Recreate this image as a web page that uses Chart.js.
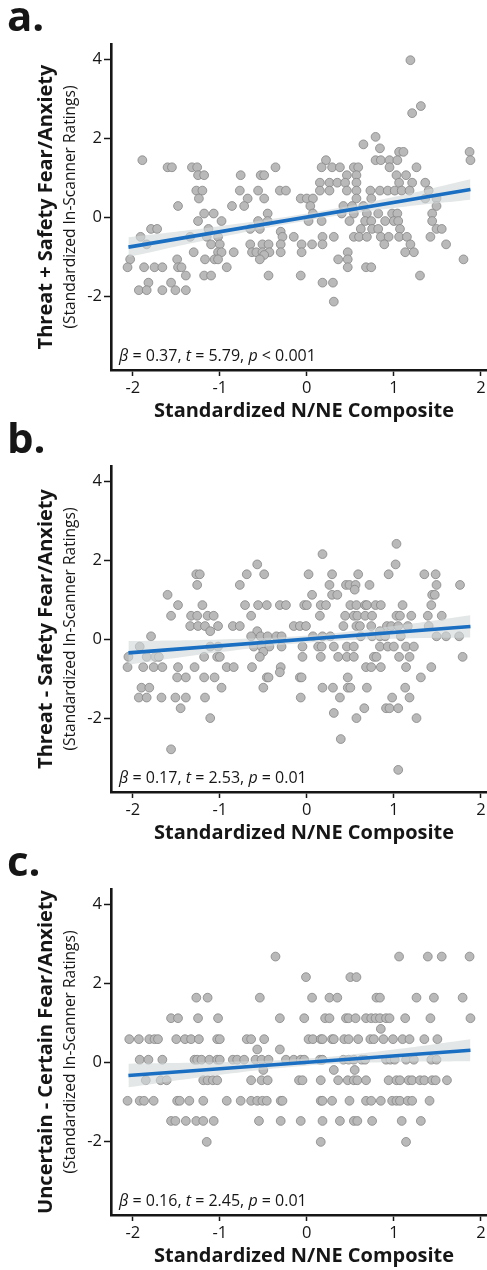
<!DOCTYPE html>
<html lang="en">
<head>
  <meta charset="UTF-8">
  <title>N/NE Composite and In-Scanner Fear/Anxiety</title>
  <script src="https://cdn.jsdelivr.net/npm/chart.js"></script>
  <style>
    body { margin: 0; background: #fff; }
    .panel { position: absolute; left: 0; width: 487px; height: 422px; }
  </style>
</head>
<body>
  <div class="panel" style="top:0px"><canvas id="chartA" width="487" height="422"></canvas></div>
  <div class="panel" style="top:422px"><canvas id="chartB" width="487" height="422"></canvas></div>
  <div class="panel" style="top:845px"><canvas id="chartC" width="487" height="422"></canvas></div>

  <script>
    // axis ticks and labels
    const xTicks = [-2, -1, 0, 1, 2];
    const yTicks = [-2, 0, 2, 4];
    const xTitle = 'Standardized N/NE Composite';
    const ySub = '(Standardized In-Scanner Ratings)';

    // panel a: Threat + Safety (rows of equal rating, x values per row)
    const aLevels = [3.97, 2.81, 2.63, 2.03, 1.84, 1.74, 1.65, 1.44, 1.26, 1.06, 0.87, 0.67, 0.47, 0.28, 0.09,
      -0.10, -0.30, -0.37, -0.50, -0.69, -0.89, -0.96, -1.07, -1.27, -1.48, -1.66, -1.85, -2.14];
    const aRowX = [
      [1.19], [1.31], [1.21], [0.79], [0.65], [0.84],
      [1.06, 1.11, 1.87],
      [-1.89, 0.22, 0.79, 0.85, 0.95, 1.04, 1.88],
      [-1.60, -1.55, -1.32, -1.26, -0.36, 0.17, 0.29, 0.38, 0.54, 0.59, 0.95, 1.26],
      [-1.25, -1.18, -0.76, -0.53, -0.49, 0.46, 0.57, 1.03, 1.14],
      [0.15, 0.26, 0.35, 0.44, 0.57, 1.06, 1.21, 1.36],
      [-1.27, -1.20, -0.77, -0.56, -0.31, -0.24, 0.15, 0.26, 0.46, 0.57, 0.73, 0.84, 0.93, 1.01, 1.09, 1.18, 1.40],
      [-1.24, -0.68, -0.49, -0.07, 0.00, 0.07, 0.57, 0.74, 1.36, 1.49],
      [-1.48, -0.86, -0.72, 0.04, 0.42, 0.52, 0.65, 1.49],
      [-1.18, -1.07, -0.45, 0.07, 0.40, 0.54, 0.69, 0.82, 0.98, 1.04, 1.44],
      [-1.25, -0.98, -0.56, -0.45, 0.02, 0.17, 0.49, 0.67, 0.74, 0.90, 1.00, 1.05, 1.44],
      [-1.79, -1.72, -1.13, -0.65, -0.54, 0.62, 0.75, 0.82, 1.07, 1.49, 1.55],
      [-0.30],
      [-1.91, -1.34, -1.15, -1.02, -0.28, -0.15, 0.18, 0.31, 0.54, 0.60, 0.69, 0.85, 0.94, 1.06, 1.15, 1.42],
      [-1.84, -1.10, -1.00, -0.65, -0.51, -0.44, -0.30, -0.06, 0.06, 0.18, 0.89, 1.19, 1.60],
      [-1.30, -1.02, -0.98, -0.84, -0.63, -0.58, -0.51, -0.43, -0.30, -0.06, 0.47, 1.13, 1.23],
      [-0.49],
      [-2.03, -1.49, -1.17, -1.06, -1.02, -0.54, 0.36, 0.47, 1.80],
      [-2.06, -1.87, -1.75, -1.66, -1.48, -1.44, -0.92, 0.47, 0.68, 0.74],
      [-1.39, -1.18, -1.10, -0.44, -0.07, 1.30],
      [-1.82, -1.56, 0.18, 0.30],
      [-1.93, -1.84, -1.66, -1.51, -1.39],
      [0.31]
    ];

    // panel b: Threat - Safety
    const bLevels = [2.41, 2.15, 1.89, 1.64, 1.37, 1.25, 1.12, 0.86, 0.59, 0.33, 0.20, 0.07, -0.19, -0.32,
      -0.45, -0.71, -0.84, -0.97, -1.23, -1.48, -1.75, -1.87, -2.00, -2.53, -2.79, -3.31];
    const bRowX = [
      [1.03], [0.18], [-0.57, 1.02],
      [-1.27, -1.23, -0.69, -0.49, 0.02, 0.29, 0.59, 0.94, 1.35, 1.48],
      [-1.26, -0.77, 0.26, 0.45, 0.49, 0.56, 0.72, 1.49, 1.76],
      [0.55],
      [-1.60, 0.06, 0.29, 0.35, 1.44, 1.47],
      [-1.48, -1.20, -0.71, -0.56, -0.46, -0.31, -0.24, -0.03, 0.00, 0.16, 0.22, 0.50, 0.57, 0.67, 0.69, 0.79, 0.85, 1.10, 1.43],
      [-1.56, -1.33, -1.26, -1.14, -1.07, -0.64, 0.15, 0.44, 0.54, 0.58, 0.67, 0.75, 1.03, 1.07, 1.20, 1.39, 1.55],
      [-1.34, -1.25, -1.17, -1.02, -0.85, -0.77, -0.15, -0.08, -0.01, 0.42, 0.57, 0.61, 0.74, 0.92, 0.97, 1.05, 1.16, 1.40],
      [-1.11, -0.57, 0.84],
      [-1.79, -0.64, -0.53, -0.45, -0.35, -0.29, 0.07, 0.18, 0.27, 0.62, 0.75, 0.84, 0.90, 1.08, 1.49, 1.60, 1.75],
      [-1.92, -1.11, -1.02, -0.61, -0.52, -0.43, -0.29, -0.05, 0.13, 0.17, 0.31, 0.46, 0.54, 0.84, 0.93, 1.00, 1.14, 1.23],
      [-0.50],
      [-2.05, -1.84, -1.74, -1.70, -1.18, -1.03, -1.00, -0.54, -0.05, 0.16, 0.36, 0.46, 0.54, 0.77, 0.80, 1.06, 1.18, 1.79],
      [-2.06, -1.88, -1.76, -1.66, -1.48, -1.29, -0.92, -0.84, -0.63, -0.30, 0.68, 0.74, 0.85, 1.14, 1.43],
      [-0.31],
      [-1.49, -1.39, -1.18, -1.06, -0.46, -0.44, -0.08, -0.06, 0.47, 1.31],
      [-1.90, -1.81, -0.98, -0.50, 0.18, 0.30, 0.47, 0.50, 0.69, 1.13],
      [-1.93, -1.84, -1.67, -1.51, -1.39, -1.17, -0.07, 0.38, 0.98, 1.18],
      [-1.45, 0.66, 0.91, 0.95, 1.05],
      [0.31],
      [-1.11, 0.57, 1.26],
      [0.39], [-1.56], [1.05]
    ];

    // panel c: Uncertain - Certain
    const cLevels = [2.67, 2.15, 1.63, 1.11, 0.84, 0.58, 0.32, 0.06, -0.20, -0.46, -0.98, -1.49, -2.02];
    const cRowX = [
      [-0.36, 1.06, 1.39, 1.55, 1.87],
      [-0.01, 0.50, 0.57],
      [-1.27, -1.14, -0.54, 0.06, 0.26, 0.35, 0.80, 0.84, 1.26, 1.46, 1.79],
      [-1.56, -1.48, -1.25, -1.02, -0.31, -0.03, 0.21, 0.26, 0.45, 0.48, 0.56, 0.68, 0.74, 0.79, 0.84, 0.91, 0.95, 1.13, 1.42, 1.88],
      [0.85],
      [-2.04, -1.93, -1.81, -1.75, -1.71, -1.50, -1.40, -1.33, -1.24, -1.03, -1.00, -0.69, -0.64, -0.49, 0.02, 0.07, 0.16, 0.18,
        0.29, 0.31, 0.43, 0.48, 0.59, 0.73, 0.77, 0.88, 0.99, 1.10, 1.18, 1.35, 1.50],
      [-0.57, -0.31],
      [-1.92, -1.82, -1.66, -1.29, -1.26, -1.21, -1.12, -1.03, -1.00, -0.85, -0.80, -0.72, -0.59, -0.52, -0.44, -0.24, -0.15,
        -0.07, -0.03, 0.15, 0.18, 0.42, 0.48, 0.54, 0.63, 0.67, 0.91, 0.96, 1.01, 1.14, 1.23, 1.43, 1.49],
      [-0.50, 0.31, 0.55],
      [-1.85, -1.68, -1.61, -1.19, -1.14, -1.08, -1.03, -0.64, -0.52, -0.45, -0.09, -0.05, 0.16, 0.36, 0.47, 0.54, 0.58, 0.68,
        0.94, 1.03, 1.07, 1.17, 1.21, 1.30, 1.35, 1.44, 1.48, 1.61],
      [-2.06, -1.92, -1.87, -1.76, -1.49, -1.46, -1.35, -1.19, -0.92, -0.76, -0.64, -0.57, -0.51, -0.46, -0.30, -0.28, 0.16,
        0.18, 0.29, 0.49, 0.68, 0.74, 0.85, 0.98, 1.03, 1.07, 1.16, 1.21, 1.41],
      [-1.56, -1.51, -1.39, -1.27, -1.19, -1.07, -0.55, -0.30, -0.07, 0.18, 0.38, 0.54, 0.58, 0.75, 1.09, 1.31],
      [-1.15, 0.16, 1.14]
    ];

    // fitted lines and their confidence bands
    const fitX = [-2.05, 1.88];
    const fitA = [-0.76, 0.70];
    const fitB = [-0.35, 0.32];
    const fitC = [-0.34, 0.30];
    const bandX = [-2.05, -1, 0, 1, 1.88];
    const bandLowA = [-1.01, -0.51, -0.09, 0.23, 0.44];
    const bandHighA = [-0.51, -0.23, 0.09, 0.51, 0.96];
    const bandLowB = [-0.65, -0.33, -0.09, 0.01, 0.04];
    const bandHighB = [-0.05, -0.01, 0.09, 0.33, 0.60];
    const bandLowC = [-0.64, -0.32, -0.09, 0.00, 0.02];
    const bandHighC = [-0.04, 0.00, 0.09, 0.32, 0.58];

    const ink = '#161616';
    const fam = '"Open Sans", "DejaVu Sans", sans-serif';

    function rowsToPoints(levels, rows) {
      const pts = [];
      levels.forEach((y, i) => rows[i].forEach(x => pts.push({ x: x, y: y })));
      return pts;
    }
    function pairs(xs, ys) {
      return xs.map((x, i) => ({ x: x, y: ys[i] }));
    }
    // font size that makes a string a given width
    function fitSize(ctx, text, weight, width) {
      ctx.font = weight + ' 20px ' + fam;
      return 20 * width / ctx.measureText(text).width;
    }

    const decor = {
      id: 'decor',
      afterDraw(chart, args, o) {
        const ctx = chart.ctx;
        const area = chart.chartArea;
        const midY = (area.top + area.bottom) / 2;
        ctx.save();
        ctx.fillStyle = ink;

        // panel letter
        ctx.font = 'bold 42px ' + fam;
        ctx.textAlign = 'left';
        ctx.textBaseline = 'alphabetic';
        ctx.fillText(o.letter, 7, 31);

        // x title
        const xs = fitSize(ctx, xTitle, 'bold', 300);
        ctx.font = 'bold ' + xs + 'px ' + fam;
        ctx.textAlign = 'center';
        ctx.fillText(xTitle, 304, 417);

        // stat line, italic symbols
        const segs = [['β', true], [' = ' + o.beta + ', ', false], ['t', true], [' = ' + o.t + ', ', false],
          ['p', true], [' ' + o.p, false]];
        const statSize = 16;
        let sx = 119;
        ctx.textAlign = 'left';
        segs.forEach(s => {
          ctx.font = (s[1] ? 'italic ' : '') + statSize + 'px ' + fam;
          ctx.fillText(s[0], sx, 361);
          sx += ctx.measureText(s[0]).width;
        });

        // y titles
        ctx.translate(0, midY);
        ctx.rotate(-Math.PI / 2);
        ctx.textAlign = 'center';
        ctx.textBaseline = 'middle';
        const ms = fitSize(ctx, 'Threat + Safety Fear/Anxiety', 'bold', 285);
        ctx.font = 'bold ' + ms + 'px ' + fam;
        ctx.fillText(o.yTitle, 0, 46);
        const ss = fitSize(ctx, ySub, 'normal', 243);
        ctx.font = ss + 'px ' + fam;
        ctx.fillText(ySub, 0, 71);
        ctx.restore();
      }
    };

    function makeChart(id, letter, yTitle, stat, points, fitY, bandLow, bandHigh) {
      return new Chart(document.getElementById(id), {
        type: 'scatter',
        data: {
          datasets: [
            {
              type: 'line',
              data: pairs(bandX, bandHigh),
              borderWidth: 0,
              pointRadius: 0,
              tension: 0.4,
              fill: '+1',
              backgroundColor: 'rgba(212,217,217,0.62)',
              order: 2
            },
            {
              type: 'line',
              data: pairs(bandX, bandLow),
              borderWidth: 0,
              pointRadius: 0,
              tension: 0.4,
              fill: false,
              order: 2
            },
            {
              type: 'line',
              data: pairs(fitX, fitY),
              borderColor: '#1a6fc2',
              borderWidth: 3.6,
              pointRadius: 0,
              fill: false,
              order: 1
            },
            {
              data: points,
              pointRadius: 4.4,
              pointBackgroundColor: '#b9b9b9',
              pointBorderColor: '#858585',
              pointBorderWidth: 0.8,
              order: 3
            }
          ]
        },
        options: {
          responsive: false,
          animation: false,
          layout: { autoPadding: false, padding: { top: 44, left: 0, right: 0, bottom: 0 } },
          plugins: {
            legend: { display: false },
            tooltip: { enabled: false },
            decor: { letter: letter, yTitle: yTitle, beta: stat[0], t: stat[1], p: stat[2] }
          },
          scales: {
            x: {
              type: 'linear',
              min: -2.25,
              max: 2.07,
              afterFit: s => { s.height = 52; s.paddingLeft = 0; s.paddingRight = 0; },
              afterBuildTicks: s => { s.ticks = xTicks.map(v => ({ value: v })); },
              grid: { drawOnChartArea: false, tickLength: 6, tickColor: ink, tickWidth: 1.5 },
              border: { color: ink, width: 2.6 },
              ticks: { color: ink, padding: 2, maxRotation: 0, font: { family: fam, size: 16.5 } }
            },
            y: {
              type: 'linear',
              min: -3.87,
              max: 4.38,
              afterFit: s => { s.width = 111; s.paddingTop = 0; s.paddingBottom = 0; },
              afterBuildTicks: s => { s.ticks = yTicks.map(v => ({ value: v })); },
              grid: { drawOnChartArea: false, tickLength: 7, tickColor: ink, tickWidth: 1.5 },
              border: { color: ink, width: 2.6 },
              ticks: { color: ink, padding: 2, font: { family: fam, size: 16.5 } }
            }
          }
        },
        plugins: [decor]
      });
    }

    makeChart('chartA', 'a.', 'Threat + Safety Fear/Anxiety', ['0.37', '5.79', '< 0.001'],
      rowsToPoints(aLevels, aRowX), fitA, bandLowA, bandHighA);
    makeChart('chartB', 'b.', 'Threat - Safety Fear/Anxiety', ['0.17', '2.53', '= 0.01'],
      rowsToPoints(bLevels, bRowX), fitB, bandLowB, bandHighB);
    makeChart('chartC', 'c.', 'Uncertain - Certain Fear/Anxiety', ['0.16', '2.45', '= 0.01'],
      rowsToPoints(cLevels, cRowX), fitC, bandLowC, bandHighC);
  </script>
</body>
</html>
